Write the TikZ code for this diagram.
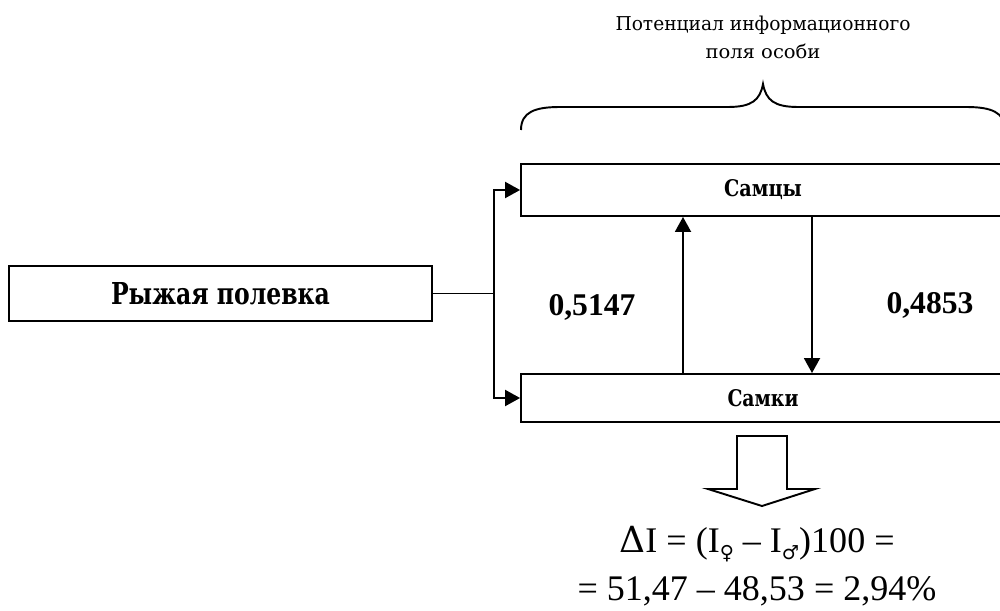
\documentclass[tikz,border=0pt]{standalone}
\usepackage{fontspec}
\usepackage{graphicx}
\setmainfont{Liberation Serif}
\newfontfamily\cyr{DejaVu Serif}
\newfontfamily\signfont{DejaVu Sans}
\usetikzlibrary{arrows.meta}
\tikzset{
  box/.style={draw, line width=1.1pt, rectangle, inner sep=0pt},
  conn/.style={line width=1.1pt},
  arr/.style={line width=1.1pt, -{Triangle[length=0.3cm,width=0.32cm]}},
  lbl/.style={inner sep=0pt, align=center},
}
\begin{document}
\begin{tikzpicture}[x=0.02cm,y=-0.02cm]
\useasboundingbox (0,0) rectangle (1000,611);
% boxes
\node[box, minimum width=8.46cm, minimum height=1.1cm,
      font=\cyr\bfseries] (ryzh) at (220.5,293.5) {\resizebox{4.38cm}{0.44cm}{Рыжая полевка}};
\node[box, minimum width=9.68cm, minimum height=1.04cm,
      font=\cyr\bfseries] (samcy) at (763,190) {\resizebox{1.56cm}{0.34cm}{Самцы}};
\node[box, minimum width=9.68cm, minimum height=0.96cm,
      font=\cyr\bfseries] (samki) at (763,398) {\resizebox{1.42cm}{0.34cm}{Самки}};
% branch
\coordinate (br) at (494,293.5);
\draw[conn] (ryzh.east) -- (br);
\draw[arr] (br) |- (samcy.west);
\draw[arr] (br) |- (samki.west);
% vertical arrows
\coordinate (ua) at (683,0);
\coordinate (da) at (812,0);
\draw[arr] (ua |- samki.north) -- (ua |- samcy.south);
\draw[arr] (da |- samcy.south) -- (da |- samki.north);
% values
\node[lbl, font=\fontsize{18}{20}\selectfont\bfseries] (v1) at (592,307) {0,5147};
\node[lbl, font=\fontsize{18}{20}\selectfont\bfseries] (v2) at (930,305) {0,4853};
% heading and brace
\node[lbl, font=\cyr\fontsize{12.5}{16}\selectfont] (head) at (763,37)
  {\resizebox{5.9cm}{0.29cm}{Потенциал информационного}\\\resizebox{2.3cm}{0.29cm}{поля особи}};
\draw[conn] (521,130) .. controls (521,112) and (535,107) .. (560,107)
  -- (728,107) .. controls (752,107) and (760,100) .. (763,84)
  .. controls (766,100) and (774,107) .. (798,107)
  -- (966,107) .. controls (991,107) and (1005,112) .. (1005,130);
% block arrow
\draw[conn] (737,436) -- (787,436) -- (787,489) -- (815,489) -- (762,506)
  -- (708,489) -- (737,489) -- cycle;
% formula
\node[lbl, font=\fontsize{20.5}{27}\selectfont] (form) at (757,566)
  {{\cyr Δ}I = (I\raisebox{-0.2em}{\signfont\fontsize{11}{11}\selectfont ♀} – I\raisebox{-0.2em}{\signfont\fontsize{11}{11}\selectfont ♂})100 =\\= 51,47 – 48,53 = 2,94\%};
\end{tikzpicture}
\end{document}
